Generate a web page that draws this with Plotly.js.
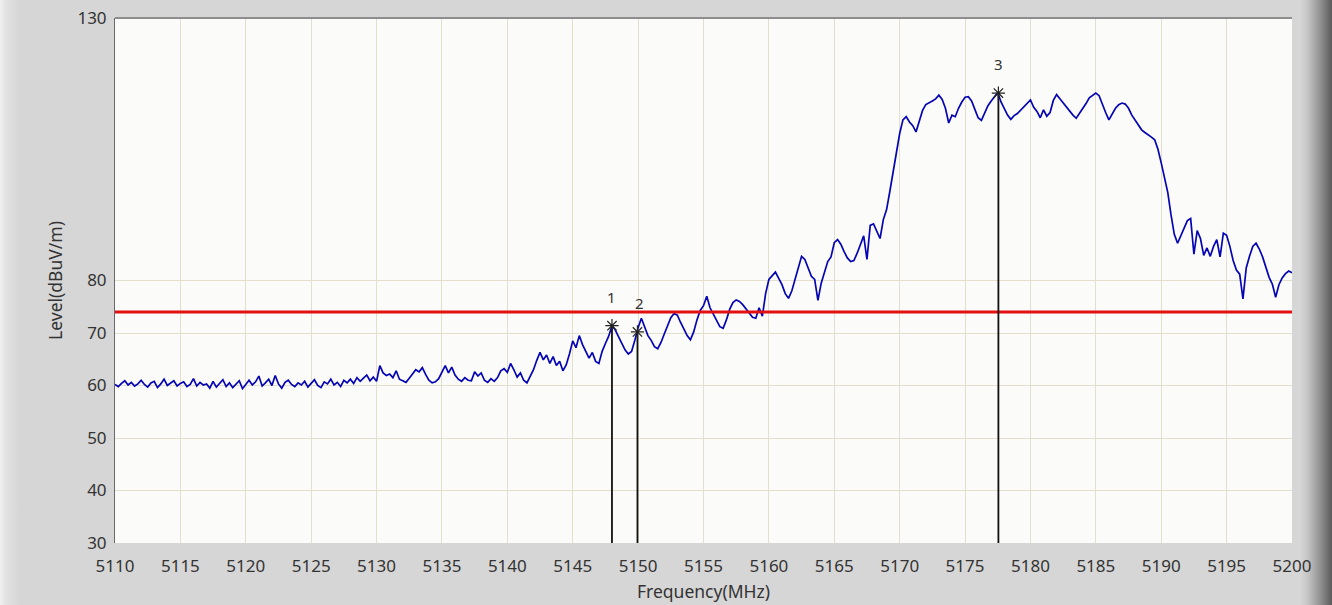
<!DOCTYPE html>
<html>
<head>
<meta charset="utf-8">
<script src="https://cdn.plot.ly/plotly-3.0.1.min.js"></script>
<style>
  html, body { margin: 0; padding: 0; }
  #chart {
    width: 1332px; height: 605px;
    background: linear-gradient(to right, #f0f0f0 0px, #e2e2e2 6px, #d6d6d6 20px, #d6d6d6 1300px, #c4c4c4 1308px, #8a8a8a 1322px, #5a5a5a 1332px);
  }
</style>
</head>
<body>
<div id="chart"></div>
<script>
// Sweep grid (MHz)
const freqStart = 5110;
const freqStep = 0.25;

// Measured level (dBuV/m), one value per 0.25 MHz, 5110 .. 5200 MHz
const level = [
  60.2, 59.8, 60.4, 60.9,  60.1, 60.6, 59.9, 60.3,  61.0, 60.2, 59.7, 60.5,  60.8, 59.6, 60.3, 61.2,
  60.0, 60.5, 60.9, 59.9,  60.4, 60.7, 59.8, 60.2,  61.3, 59.9, 60.6, 60.1,  60.3, 59.5, 60.8, 59.7,
  60.4, 61.1, 59.8, 60.5,  59.6, 60.2, 60.9, 59.4,  60.3, 61.0, 60.1, 60.7,  61.8, 59.9, 60.5, 61.2,
  60.0, 61.9, 60.3, 59.5,  60.6, 61.0, 60.2, 59.8,  60.5, 60.1, 60.8, 59.7,  60.4, 61.1, 60.0, 59.6,
  60.7, 60.3, 61.2, 60.1,  60.6, 59.8, 61.0, 60.5,  61.2, 60.4, 61.5, 60.8,  61.4, 62.0, 60.9, 61.6,
  60.8, 63.8, 62.4, 61.9,  62.2, 61.5, 62.8, 61.2,  60.9, 60.6, 61.4, 62.3,  63.0, 62.6, 63.4, 62.1,
  61.0, 60.5, 60.7, 61.3,  62.5, 63.8, 62.4, 63.5,  62.0, 61.2, 60.8, 61.5,  61.0, 60.9, 62.6, 61.8,
  62.4, 61.0, 60.6, 61.3,  60.8, 61.5, 62.8, 63.2,  62.5, 64.2, 63.0, 61.6,  62.4, 61.0, 60.5, 61.8,
  63.0, 64.8, 66.3, 64.9,  65.8, 64.2, 65.5, 63.8,  64.6, 62.8, 63.9, 66.0,  68.5, 67.2, 69.5, 67.8,
  66.5, 65.2, 66.3, 64.6,  64.2, 66.5, 68.0, 69.4,  71.4, 70.6, 69.3, 68.0,  66.8, 66.0, 66.5, 68.6,
  71.0, 72.8, 71.3, 69.5,  68.6, 67.4, 67.0, 68.2,  69.8, 71.5, 72.9, 73.7,  73.4, 72.0, 70.6, 69.5,
  68.7, 70.2, 72.5, 74.3,  75.2, 77.0, 74.8, 73.5,  72.4, 71.2, 70.9, 72.5,  74.5, 75.8, 76.3, 76.0,
  75.4, 74.6, 73.6, 73.0,  72.8, 74.8, 73.2, 77.5,  80.2, 81.0, 81.6, 80.4,  79.2, 77.5, 76.6, 78.0,
  80.2, 82.5, 84.6, 84.0,  82.4, 80.8, 80.2, 76.2,  79.5, 81.8, 83.6, 84.5,  87.2, 87.8, 86.9, 85.5,
  84.3, 83.6, 83.8, 85.2,  86.8, 88.5, 84.0, 90.5,  90.8, 89.3, 88.0, 91.6,  93.5, 97.0, 100.5, 104.5,
  108.0, 110.6, 111.2, 110.2,  109.5, 108.3, 110.5, 112.4,  113.5, 113.8, 114.2, 114.6,  115.3, 114.5, 112.8, 110.0,
  111.5, 111.2, 112.8, 114.0,  114.9, 115.0, 114.2, 112.6,  111.0, 110.5, 112.0, 113.3,  114.2, 115.0, 115.8, 114.0,
  112.6, 111.5, 110.7, 111.4,  111.8, 112.5, 113.0, 113.8,  114.4, 113.0, 112.2, 111.0,  112.5, 111.3, 112.0, 114.3,
  115.4, 114.6, 113.8, 113.0,  112.2, 111.5, 110.9, 111.8,  112.6, 113.7, 114.8, 115.3,  115.7, 115.2, 113.5, 112.0,
  110.6, 111.6, 112.8, 113.5,  113.8, 113.6, 112.8, 111.5,  110.5, 109.6, 108.7, 108.2,  107.8, 107.3, 106.8, 105.0,
  102.4, 99.8, 96.8, 92.5,  88.8, 87.1, 88.5, 90.2,  91.4, 91.8, 85.0, 89.5,  88.0, 84.8, 86.2, 84.6,
  86.5, 87.8, 84.5, 89.0,  88.6, 86.5, 83.8, 82.0,  81.2, 76.5, 82.4, 84.6,  86.5, 87.1, 86.0, 84.5,
  82.5, 80.6, 79.3, 76.8,  79.2, 80.5, 81.3, 81.8,  81.5
];

// Limit line (dBuV/m)
const limitFreq = [5110, 5200];
const limitLevel = [74, 74];

// Markers
const markerFreq = [5148.0, 5149.95, 5177.55];
const markerLevel = [71.4, 70.2, 115.7];
const markerLabels = ['1', '2', '3'];

// Axis ticks
const xTicks = [5110, 5115, 5120, 5125, 5130, 5135, 5140, 5145, 5150, 5155, 5160, 5165, 5170, 5175, 5180, 5185, 5190, 5195, 5200];
const yTicks = [30, 40, 50, 60, 70, 80, 130];
const axisFloor = 30;

const freq = level.map((_, i) => freqStart + i * freqStep);

const stemX = [], stemY = [];
markerFreq.forEach((f, i) => { stemX.push(f, f, null); stemY.push(axisFloor, markerLevel[i], null); });

const FONT = 'Noto Sans, Open Sans, DejaVu Sans, sans-serif';

const data = [
  { x: freq, y: level, type: 'scatter', mode: 'lines',
    line: { color: '#0505b4', width: 1.7 }, hoverinfo: 'x+y' },
  { x: limitFreq, y: limitLevel, type: 'scatter', mode: 'lines',
    line: { color: '#e41010', width: 3 } },
  { x: stemX, y: stemY, type: 'scatter', mode: 'lines',
    line: { color: '#111111', width: 1.8 } },
  { x: markerFreq, y: markerLevel, type: 'scatter', mode: 'markers',
    marker: { symbol: 'asterisk-open', size: 11, color: '#222', line: { color: '#222', width: 1.2 } } }
];

const layout = {
  width: 1332, height: 605,
  margin: { l: 115, r: 40, t: 18, b: 62 },
  paper_bgcolor: 'rgba(0,0,0,0)',
  plot_bgcolor: '#fbfbfa',
  showlegend: false,
  font: { family: FONT, color: '#333', size: 17 },
  xaxis: {
    range: [5110, 5200], tickmode: 'array', tickvals: xTicks,
    showgrid: true, gridcolor: '#e4dfcc', gridwidth: 1,
    zeroline: false, showline: false, ticks: '', ticklabelstandoff: 11,
    tickfont: { family: FONT, size: 17, color: '#333' },
    title: { text: 'Frequency(MHz)', font: { family: FONT, size: 17.5, color: '#333' }, standoff: 9 }
  },
  yaxis: {
    range: [30, 130], tickmode: 'array', tickvals: yTicks,
    showgrid: true, gridcolor: '#e4dfcc', gridwidth: 1,
    zeroline: false, showline: true, linecolor: '#6a6a6a', linewidth: 1,
    ticks: '', ticklabelstandoff: 4,
    tickfont: { family: FONT, size: 17, color: '#333' },
    title: { text: 'Level(dBuV/m)', font: { family: FONT, size: 17.5, color: '#333' }, standoff: 10 }
  },
  shapes: [
    { type: 'line', xref: 'paper', yref: 'paper', x0: 0, x1: 1, y0: 1, y1: 1,
      line: { color: '#8e8e8e', width: 2 } }
  ],
  annotations: markerFreq.map((f, i) => ({
    x: f, y: markerLevel[i], xref: 'x', yref: 'y', text: markerLabels[i],
    showarrow: false, yshift: 29, xshift: i === 1 ? 2 : 0,
    font: { family: FONT, size: 15, color: '#333' }
  }))
};

Plotly.newPlot('chart', data, layout, { displayModeBar: false, staticPlot: true });
</script>
</body>
</html>
